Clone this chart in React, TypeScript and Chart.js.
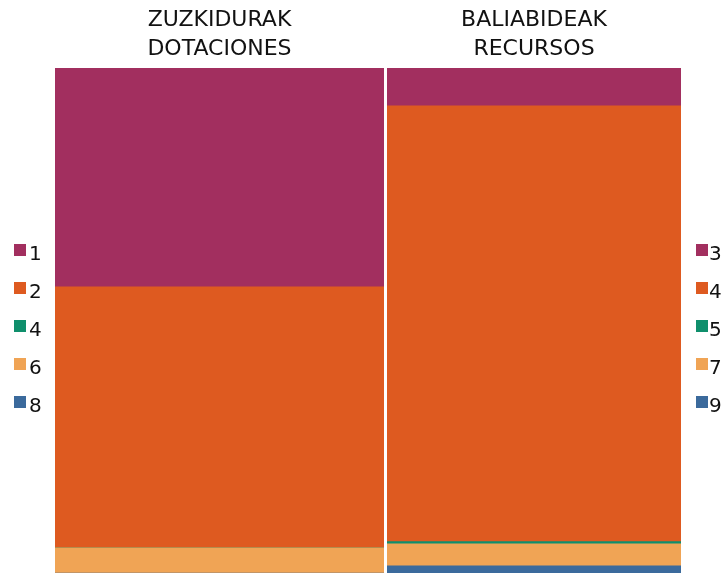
import React, { useEffect, useRef } from "react";
import { Chart, registerables } from "chart.js";

Chart.register(...registerables);

const leftTitle = ["ZUZKIDURAK", "DOTACIONES"];
const rightTitle = ["BALIABIDEAK", "RECURSOS"];

const leftLabels = ["1", "2", "4", "6", "8"];
const leftValues = [43.3, 51.7, 0, 5.0, 0];

const rightLabels = ["3", "4", "5", "7", "9"];
const rightValues = [7.5, 86.3, 0.4, 4.4, 1.4];

const seriesColors = ["#A22F5F", "#DE5A20", "#0F8F6C", "#F0A455", "#3B6A9C"];

const FONT = "'DejaVu Sans', Verdana, sans-serif";

function buildConfig(title: string[], labels: string[], values: number[], padLeft: number, padRight: number): any {
  const datasets = labels
    .map((lab, i) => ({
      label: lab,
      data: [values[i]],
      backgroundColor: seriesColors[i],
      borderWidth: 0,
      barPercentage: 1,
      categoryPercentage: 1,
    }))
    .reverse();
  return {
    type: "bar",
    data: { labels: [title.join(" ")], datasets },
    options: {
      responsive: false,
      animation: false,
      layout: { padding: { left: padLeft, right: padRight, top: 0, bottom: 0 } },
      plugins: {
        legend: { display: false },
        tooltip: { enabled: false },
        title: {
          display: true,
          text: title,
          fullSize: false,
          align: "center",
          color: "#111111",
          font: { family: FONT, size: 22, weight: "normal", lineHeight: 1.32 },
          padding: { top: 6, bottom: 4 },
        },
      },
      scales: {
        x: { display: false, stacked: true },
        y: { display: false, stacked: true, min: 0, max: 100 },
      },
    },
  };
}

function Legend({ labels, left, textGap }: { labels: string[]; left: number; textGap: number }) {
  return (
    <>
      {labels.map((lab, i) => {
        const top = 244 + i * 38;
        return (
          <React.Fragment key={lab + i}>
            <div
              style={{
                position: "absolute",
                left,
                top,
                width: 12,
                height: 12,
                background: seriesColors[i],
              }}
            />
            <div
              style={{
                position: "absolute",
                left: left + 12 + textGap,
                top: top - 1,
                height: 20,
                lineHeight: "20px",
                fontSize: 20,
                fontFamily: FONT,
                color: "#111111",
                whiteSpace: "nowrap",
              }}
            >
              {lab}
            </div>
          </React.Fragment>
        );
      })}
    </>
  );
}

export default function App() {
  const leftRef = useRef<HTMLCanvasElement | null>(null);
  const rightRef = useRef<HTMLCanvasElement | null>(null);

  useEffect(() => {
    const c1 = new Chart(leftRef.current as HTMLCanvasElement, buildConfig(leftTitle, leftLabels, leftValues, 55, 1));
    const c2 = new Chart(rightRef.current as HTMLCanvasElement, buildConfig(rightTitle, rightLabels, rightValues, 2, 41));
    return () => {
      c1.destroy();
      c2.destroy();
    };
  }, []);

  return (
    <div
      style={{
        position: "fixed",
        left: 0,
        top: 0,
        width: 722,
        height: 573,
        overflow: "hidden",
        background: "#ffffff",
      }}
    >
      <canvas ref={leftRef} width={385} height={573} style={{ position: "absolute", left: 0, top: 0 }} />
      <canvas ref={rightRef} width={337} height={573} style={{ position: "absolute", left: 385, top: 0 }} />
      <Legend labels={leftLabels} left={14} textGap={3} />
      <Legend labels={rightLabels} left={696} textGap={1} />
    </div>
  );
}
